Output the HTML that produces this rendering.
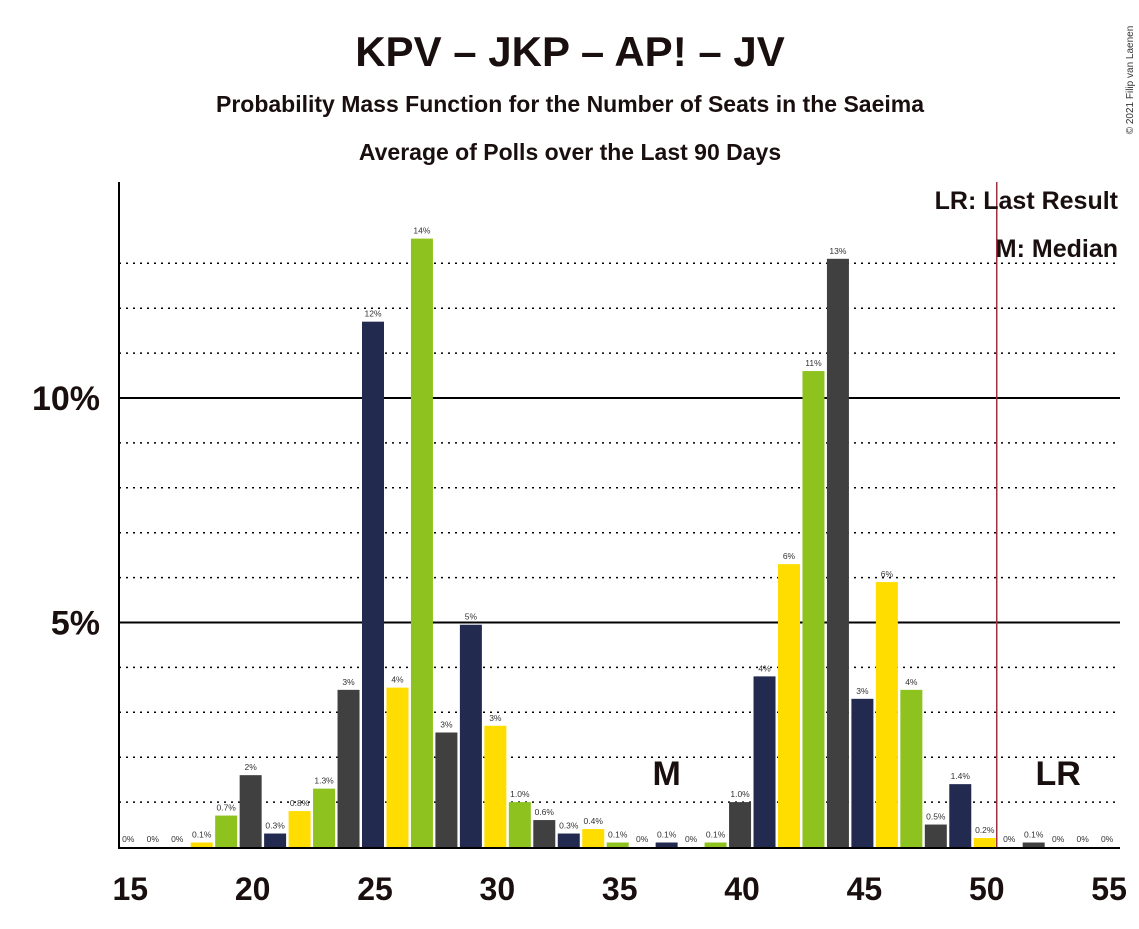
<!DOCTYPE html>
<html><head><meta charset="utf-8"><style>
body{margin:0;background:#fff;font-family:"Liberation Sans",sans-serif}
svg text{font-family:"Liberation Sans",sans-serif}
</style></head><body>
<svg id="c" width="1139" height="924">
<text x="570" y="66" text-anchor="middle" font-size="42" font-weight="bold" fill="#1a0f0f">KPV – JKP – AP! – JV</text>
<text x="570" y="112" text-anchor="middle" font-size="23" font-weight="bold" fill="#1a0f0f">Probability Mass Function for the Number of Seats in the Saeima</text>
<text x="570" y="160" text-anchor="middle" font-size="23" font-weight="bold" fill="#1a0f0f">Average of Polls over the Last 90 Days</text>
<text x="1133" y="80" font-size="10" fill="#333" transform="rotate(-90 1133 80)" text-anchor="middle">© 2021 Filip van Laenen</text>
<g id="grid"></g><g id="bars"></g><g id="xt"></g>
<line x1="119" y1="182" x2="119" y2="848" stroke="#000" stroke-width="2"/>
<line x1="118" y1="848" x2="1120" y2="848" stroke="#000" stroke-width="2"/>
<text x="1118" y="209" text-anchor="end" font-size="25" font-weight="bold" fill="#1a0f0f">LR: Last Result</text>
<text x="1118" y="257" text-anchor="end" font-size="25" font-weight="bold" fill="#1a0f0f">M: Median</text>
</svg>
<script>
const seats=[15,16,17,18,19,20,21,22,23,24,25,26,27,28,29,30,31,32,33,34,35,36,37,38,39,40,41,42,43,44,45,46,47,48,49,50,51,52,53,54,55];
const probs=[0,0,0,0.1,0.7,1.6,0.3,0.8,1.3,3.5,11.7,3.55,13.55,2.55,4.95,2.7,1.0,0.6,0.3,0.4,0.1,0,0.1,0,0.1,1.0,3.8,6.3,10.6,13.1,3.3,5.9,3.5,0.5,1.4,0.2,0,0.1,0,0,0];
const labels=["0%","0%","0%","0.1%","0.7%","2%","0.3%","0.8%","1.3%","3%","12%","4%","14%","3%","5%","3%","1.0%","0.6%","0.3%","0.4%","0.1%","0%","0.1%","0%","0.1%","1.0%","4%","6%","11%","13%","3%","6%","4%","0.5%","1.4%","0.2%","0%","0.1%","0%","0%","0%"];
const xTicks=[15,20,25,30,35,40,45,50,55];
const yTicks=[5,10];
const median=37, lastResult=50;
const NS="http://www.w3.org/2000/svg";
const X=s=>373+(s-25)*24.47, Y=p=>847-p*44.9;
const colors=["#404040","#222a50","#ffdd00","#8dc21f"];
function mk(t,a,p){const e=document.createElementNS(NS,t);for(const k in a)e.setAttribute(k,a[k]);document.getElementById(p).appendChild(e);return e;}
for(let p=1;p<=13;p++){
 const solid=yTicks.includes(p);
 const l=mk("line",{x1:119,x2:1120,y1:Y(p),y2:Y(p),stroke:"#000","stroke-width":solid?2:1.5,"stroke-dasharray":solid?"none":"2,5"},"grid");
 
 
}
yTicks.forEach(t=>{const e=mk("text",{x:100,y:Y(t)+12,"text-anchor":"end","font-size":34,"font-weight":"bold",fill:"#1a0f0f"},"xt");e.textContent=t+"%";
 
 });
seats.forEach((s,i)=>{
 const v=probs[i];
 if(v>0){const r=mk("rect",{x:X(s)-11,y:Y(v),width:22,height:847-Y(v),fill:colors[s%4]},"bars");
 
 }
 const t=mk("text",{x:X(s),y:Y(v)-5,"text-anchor":"middle","font-size":8.5,fill:"#333"},"bars");t.textContent=labels[i];
 
 
});
xTicks.forEach(t=>{const e=mk("text",{x:X(t)+2,y:900,"text-anchor":"middle","font-size":32,"font-weight":"bold",fill:"#1a0f0f"},"xt");e.textContent=t;
 
 });
const lr=mk("line",{x1:X(lastResult)+12,x2:X(lastResult)+12,y1:182,y2:848,stroke:"#a03040","stroke-width":1.5},"xt");


const lt=mk("text",{x:X(lastResult+3),y:785,"text-anchor":"middle","font-size":34,"font-weight":"bold",fill:"#1a0f0f"},"xt");lt.textContent="LR";


const mt=mk("text",{x:X(median),y:785,"text-anchor":"middle","font-size":34,"font-weight":"bold",fill:"#1a0f0f"},"xt");mt.textContent="M";


</script>
</body></html>
